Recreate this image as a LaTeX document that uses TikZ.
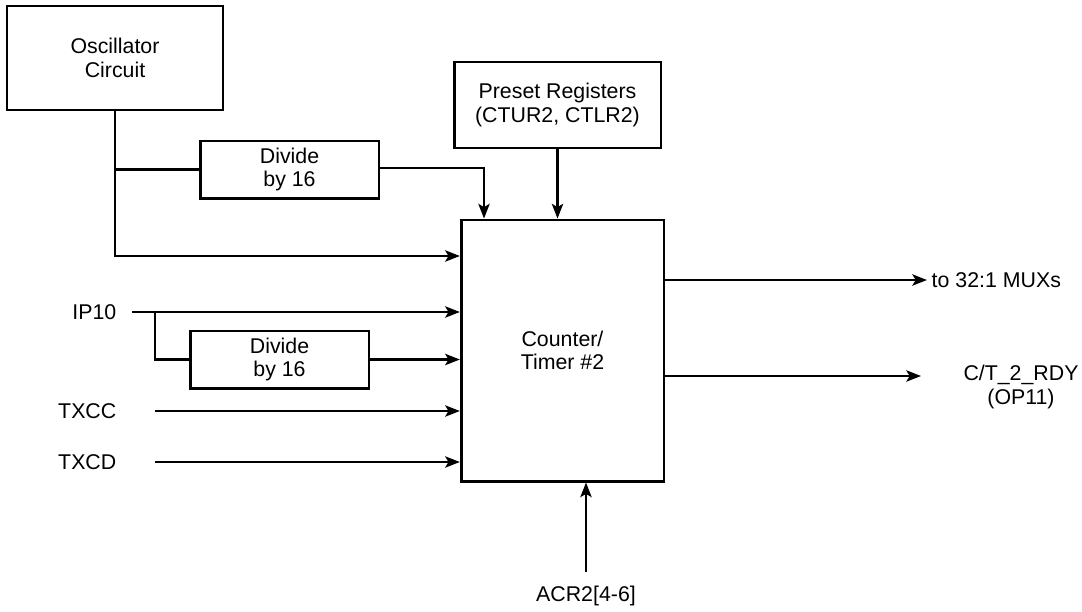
\documentclass[tikz,border=0pt]{standalone}
\usepackage{fontspec}
\setmainfont{Liberation Sans}
\usepackage{tikz}
\usetikzlibrary{arrows.meta}

\begin{document}
\begin{tikzpicture}[x=0.75pt,y=-0.75pt,
  every node/.style={font=\fontsize{16pt}{17.5pt}\selectfont},
  blk/.style={draw,line width=2pt,align=center,inner sep=0pt},
  wire/.style={line width=1.6pt},
  arr/.style={wire,-{Stealth[length=11pt,width=8.5pt,inset=2.5pt]}}]
  \useasboundingbox (0,0) rectangle (1082,611);

  %blocks
  \node[blk,minimum width=162pt,minimum height=78pt] (osc) at (115,58) {Oscillator\\Circuit};
  \node[blk,minimum width=134pt,minimum height=43pt] (div1) at (289.5,169.5) {Divide\\by 16};
  \node[blk,minimum width=155pt,minimum height=64.5pt] (pre) at (557.5,105) {Preset Registers\\(CTUR2, CTLR2)};
  \node[blk,minimum width=152pt,minimum height=196pt] (cnt) at (562.5,350.5) {Counter/\\Timer \#2};
  \node[blk,minimum width=134pt,minimum height=43pt] (div2) at (279.5,359.5) {Divide\\by 16};

  %labels
  \node[anchor=east] (ip10) at (121,312) {IP10};
  \node[anchor=east] (txcc) at (121,411) {TXCC};
  \node[anchor=east] (txcd) at (121,462) {TXCD};
  \node[anchor=west] (mux) at (927,280) {to 32:1 MUXs};
  \node[align=center] (rdy) at (1021,387) {C/T\_2\_RDY\\(OP11)};
  \node (acr) at (586,596) {ACR2[4-6]};

  %free ends
  \coordinate (oscjoin) at (115,256);
  \coordinate (div1bend) at (484,168);
  \coordinate (ip10in) at (132,312);
  \coordinate (ip10tap) at (155,312);
  \coordinate (txccin) at (155,411);
  \coordinate (txcdin) at (155,462);
  \coordinate (rdyend) at (921,376);
  \coordinate (acrin) at (586,572);

  %clock
  \draw[arr] (osc.south) -- (oscjoin) -- (oscjoin -| cnt.west);
  \draw[wire] (osc.south |- div1.west) -- (div1.west);
  \draw[arr] (div1.east |- div1bend) -- (div1bend) -- (div1bend |- cnt.north);
  \draw[arr] (pre.south) -- (pre.south |- cnt.north);

  %inputs
  \draw[arr] (ip10in) -- (ip10in -| cnt.west);
  \draw[wire] (ip10tap) -- (ip10tap |- div2.west) -- (div2.west);
  \draw[arr] (div2.east) -- (div2.east -| cnt.west);
  \draw[arr] (txccin) -- (txccin -| cnt.west);
  \draw[arr] (txcdin) -- (txcdin -| cnt.west);
  \draw[arr] (acrin) -- (acrin |- cnt.south);

  %outputs
  \draw[arr] (mux.west -| cnt.east) -- (mux.west);
  \draw[arr] (rdyend -| cnt.east) -- (rdyend);
\end{tikzpicture}
\end{document}
